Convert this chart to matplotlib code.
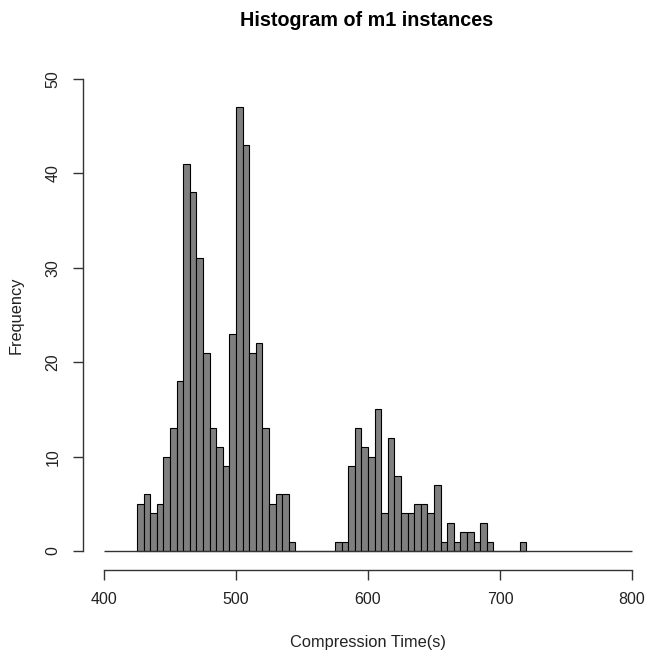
import numpy as np
import matplotlib.pyplot as plt

# --- DATA (bin width 5) ---
BIN_START = 425
BIN_WIDTH = 5
counts = [5, 6, 4, 5, 10, 13, 18, 41, 38, 31, 21, 13, 11, 9, 23, 47, 43, 21, 22, 13,
          5, 6, 6, 1,
          0, 0, 0, 0, 0, 0,
          1, 1, 9, 13, 11, 10, 15, 4, 12, 8, 4, 4, 5, 5, 4, 7, 1, 3, 1, 2, 2, 1, 3, 1,
          0, 0, 0, 0,
          1]
x_ticks = [400, 500, 600, 700, 800]
y_ticks = [0, 10, 20, 30, 40, 50]

plt.rcParams['font.family'] = ['Liberation Sans', 'DejaVu Sans']


def plot_histogram():
    lefts = BIN_START + BIN_WIDTH * np.arange(len(counts))

    fig = plt.figure(figsize=(6.45, 6.5), dpi=100)
    # plot region like R: axis limits extended by 4%
    ax = fig.add_axes([0.1285, 0.1232, 0.884, 0.7843])

    ax.bar(lefts, counts, width=BIN_WIDTH, align='edge',
           color='#7f7f7f', edgecolor='black', linewidth=0.8)
    ax.hlines(0, x_ticks[0], x_ticks[-1], color='#333333', linewidth=1)

    ax.set_xlim(384, 816)
    ax.set_ylim(-2, 52)

    for side in ['top', 'right']:
        ax.spines[side].set_visible(False)
    ax.spines['left'].set_bounds(y_ticks[0], y_ticks[-1])
    ax.spines['bottom'].set_bounds(x_ticks[0], x_ticks[-1])
    for side in ['left', 'bottom']:
        ax.spines[side].set_color('#333333')
        ax.spines[side].set_linewidth(1)

    ax.set_xticks(x_ticks)
    ax.set_yticks(y_ticks)
    ax.tick_params(direction='out', length=7, width=1, color='#333333',
                   labelsize=11.5, labelcolor='#222222')
    ax.tick_params(axis='x', pad=9)
    ax.tick_params(axis='y', pad=9)
    for lab in ax.get_yticklabels():
        lab.set_rotation(90)
        lab.set_verticalalignment('center')

    ax.set_xlabel('Compression Time(s)', fontsize=11.8, labelpad=20, color='#222222')
    ax.set_ylabel('Frequency', fontsize=11.8, labelpad=16, color='#222222')
    fig.text(0.569, 0.969, 'Histogram of m1 instances', ha='center', va='center',
             fontsize=14.2, fontweight='bold')

    fig.savefig('out.png', dpi=100)


if __name__ == "__main__":
    plot_histogram()
